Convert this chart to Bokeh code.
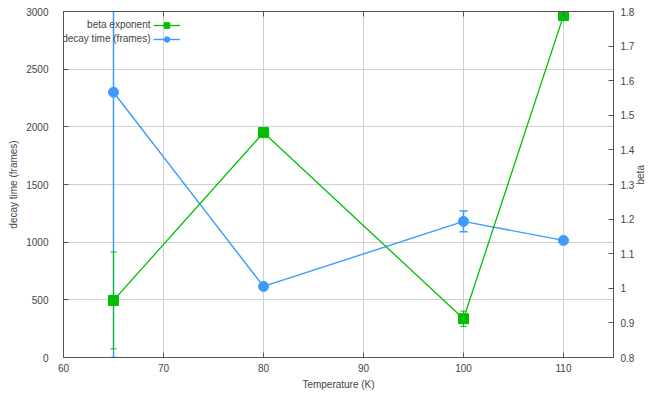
import math
from bokeh.plotting import figure
from bokeh.models import (ColumnDataSource, Range1d, LinearAxis, Whisker, TeeHead,
                          Legend, LegendItem, FixedTicker, CustomJSTickFormatter, Label)
from bokeh.embed import file_html
from bokeh.resources import INLINE

# data
temperature = [65, 80, 100, 110]
decay_time = [2300, 616, 1180, 1015]
decay_err = [2300, 0, 90, 0]
beta = [0.965, 1.45, 0.912, 1.788]
beta_err = [0.14, 0.0, 0.022, 0.0]

x_ticks = [60, 70, 80, 90, 100, 110]
y_ticks = [0, 500, 1000, 1500, 2000, 2500, 3000]
y2_ticks = [0.8, 0.9, 1.0, 1.1, 1.2, 1.3, 1.4, 1.5, 1.6, 1.7, 1.8]
series_names = ["beta exponent", "decay time (frames)"]

BLUE = "#3d9bff"
GREEN = "#00c000"
TXT = "#444444"
FONT = "Liberation Sans"

src_d = ColumnDataSource(dict(x=temperature, y=decay_time,
                              lo=[v - e for v, e in zip(decay_time, decay_err)],
                              hi=[v + e for v, e in zip(decay_time, decay_err)]))
src_b = ColumnDataSource(dict(x=temperature, y=beta,
                              lo=[v - e for v, e in zip(beta, beta_err)],
                              hi=[v + e for v, e in zip(beta, beta_err)]))

p = figure(frame_width=550, frame_height=346, output_backend="svg", toolbar_location=None,
           x_range=Range1d(60, 115), y_range=Range1d(0, 3000),
           min_border_left=63, min_border_right=37, min_border_top=11, min_border_bottom=42)
p.extra_y_ranges = {"beta": Range1d(0.8, 1.8)}
p.outline_line_color = "#555555"
p.outline_line_width = 1
p.background_fill_color = "white"
p.border_fill_color = "white"

def style(ax, ticks):
    ax.ticker = FixedTicker(ticks=ticks)
    ax.major_tick_in = 5
    ax.major_tick_out = 0
    ax.minor_tick_line_color = None
    ax.axis_line_color = "#555555"
    ax.major_tick_line_color = "#555555"
    ax.major_label_text_font = FONT
    ax.major_label_text_font_size = "10px"
    ax.major_label_text_color = TXT
    ax.axis_label_text_font = FONT
    ax.axis_label_text_font_size = "10px"
    ax.axis_label_text_font_style = "normal"
    ax.axis_label_text_color = TXT

style(p.xaxis[0], x_ticks)
p.xaxis[0].axis_label = "Temperature (K)"
p.xaxis[0].major_label_standoff = 6
p.xaxis[0].axis_label_standoff = 4

style(p.yaxis[0], y_ticks)
p.yaxis[0].axis_label = "decay time (frames)"
p.yaxis[0].major_label_standoff = 15
p.yaxis[0].axis_label_standoff = 4

ax2 = LinearAxis(y_range_name="beta", axis_label="beta")
style(ax2, y2_ticks)
ax2.formatter = CustomJSTickFormatter(code="return String(Math.round(tick*10)/10);")
ax2.major_label_standoff = 7
ax2.axis_label_standoff = 3
if "axis_label_orientation" in ax2.properties():
    ax2.axis_label_orientation = math.pi / 2
p.add_layout(ax2, "right")

ax_top = LinearAxis()
style(ax_top, x_ticks)
ax_top.formatter = CustomJSTickFormatter(code="return '';")
ax_top.major_label_standoff = 0
ax_top.axis_label_standoff = 0
p.add_layout(ax_top, "above")

p.xgrid.ticker = FixedTicker(ticks=x_ticks[1:])
p.ygrid.ticker = FixedTicker(ticks=y_ticks)
p.grid.grid_line_color = "#cfcfcf"
p.grid.grid_line_width = 1

# blue series
wd = Whisker(source=src_d, base="x", lower="lo", upper="hi", line_color=BLUE, line_width=1.5,
             upper_head=TeeHead(size=8, line_color=BLUE, line_width=1.5),
             lower_head=TeeHead(size=8, line_color=BLUE, line_width=1.5))
p.add_layout(wd)
ld = p.line("x", "y", source=src_d, line_color=BLUE, line_width=1.4)
sd = p.scatter("x", "y", source=src_d, marker="circle", size=10, fill_color=BLUE, line_color=BLUE)

# green series
wb = Whisker(source=src_b, base="x", lower="lo", upper="hi", line_color=GREEN, line_width=1,
             y_range_name="beta",
             upper_head=TeeHead(size=6, line_color=GREEN, line_width=1),
             lower_head=TeeHead(size=6, line_color=GREEN, line_width=1))
p.add_layout(wb)
lb = p.line("x", "y", source=src_b, line_color=GREEN, line_width=1.3, y_range_name="beta")
sb = p.scatter("x", "y", source=src_b, marker="square", size=10, fill_color=GREEN,
               line_color=GREEN, y_range_name="beta")

# legend: glyph samples on the right, texts right-aligned to their left (gnuplot style)
legend = Legend(items=[LegendItem(label=" ", renderers=[lb, sb]),
                       LegendItem(label=" ", renderers=[ld, sd])],
                location=(90, 311), background_fill_alpha=0, border_line_color=None,
                padding=0, spacing=0, margin=0, glyph_width=27, glyph_height=14,
                label_height=14, label_standoff=0,
                label_text_font=FONT, label_text_font_size="10px", label_text_color=TXT)
p.add_layout(legend, "center")

for i, name in enumerate(series_names):
    p.add_layout(Label(x=87, y=346 - 13 - 14 * i, x_units="screen", y_units="screen",
                       text=name, text_align="right", text_baseline="middle",
                       text_font=FONT, text_font_size="10px", text_color=TXT))

open("out.html", "w").write(file_html(p, INLINE))
